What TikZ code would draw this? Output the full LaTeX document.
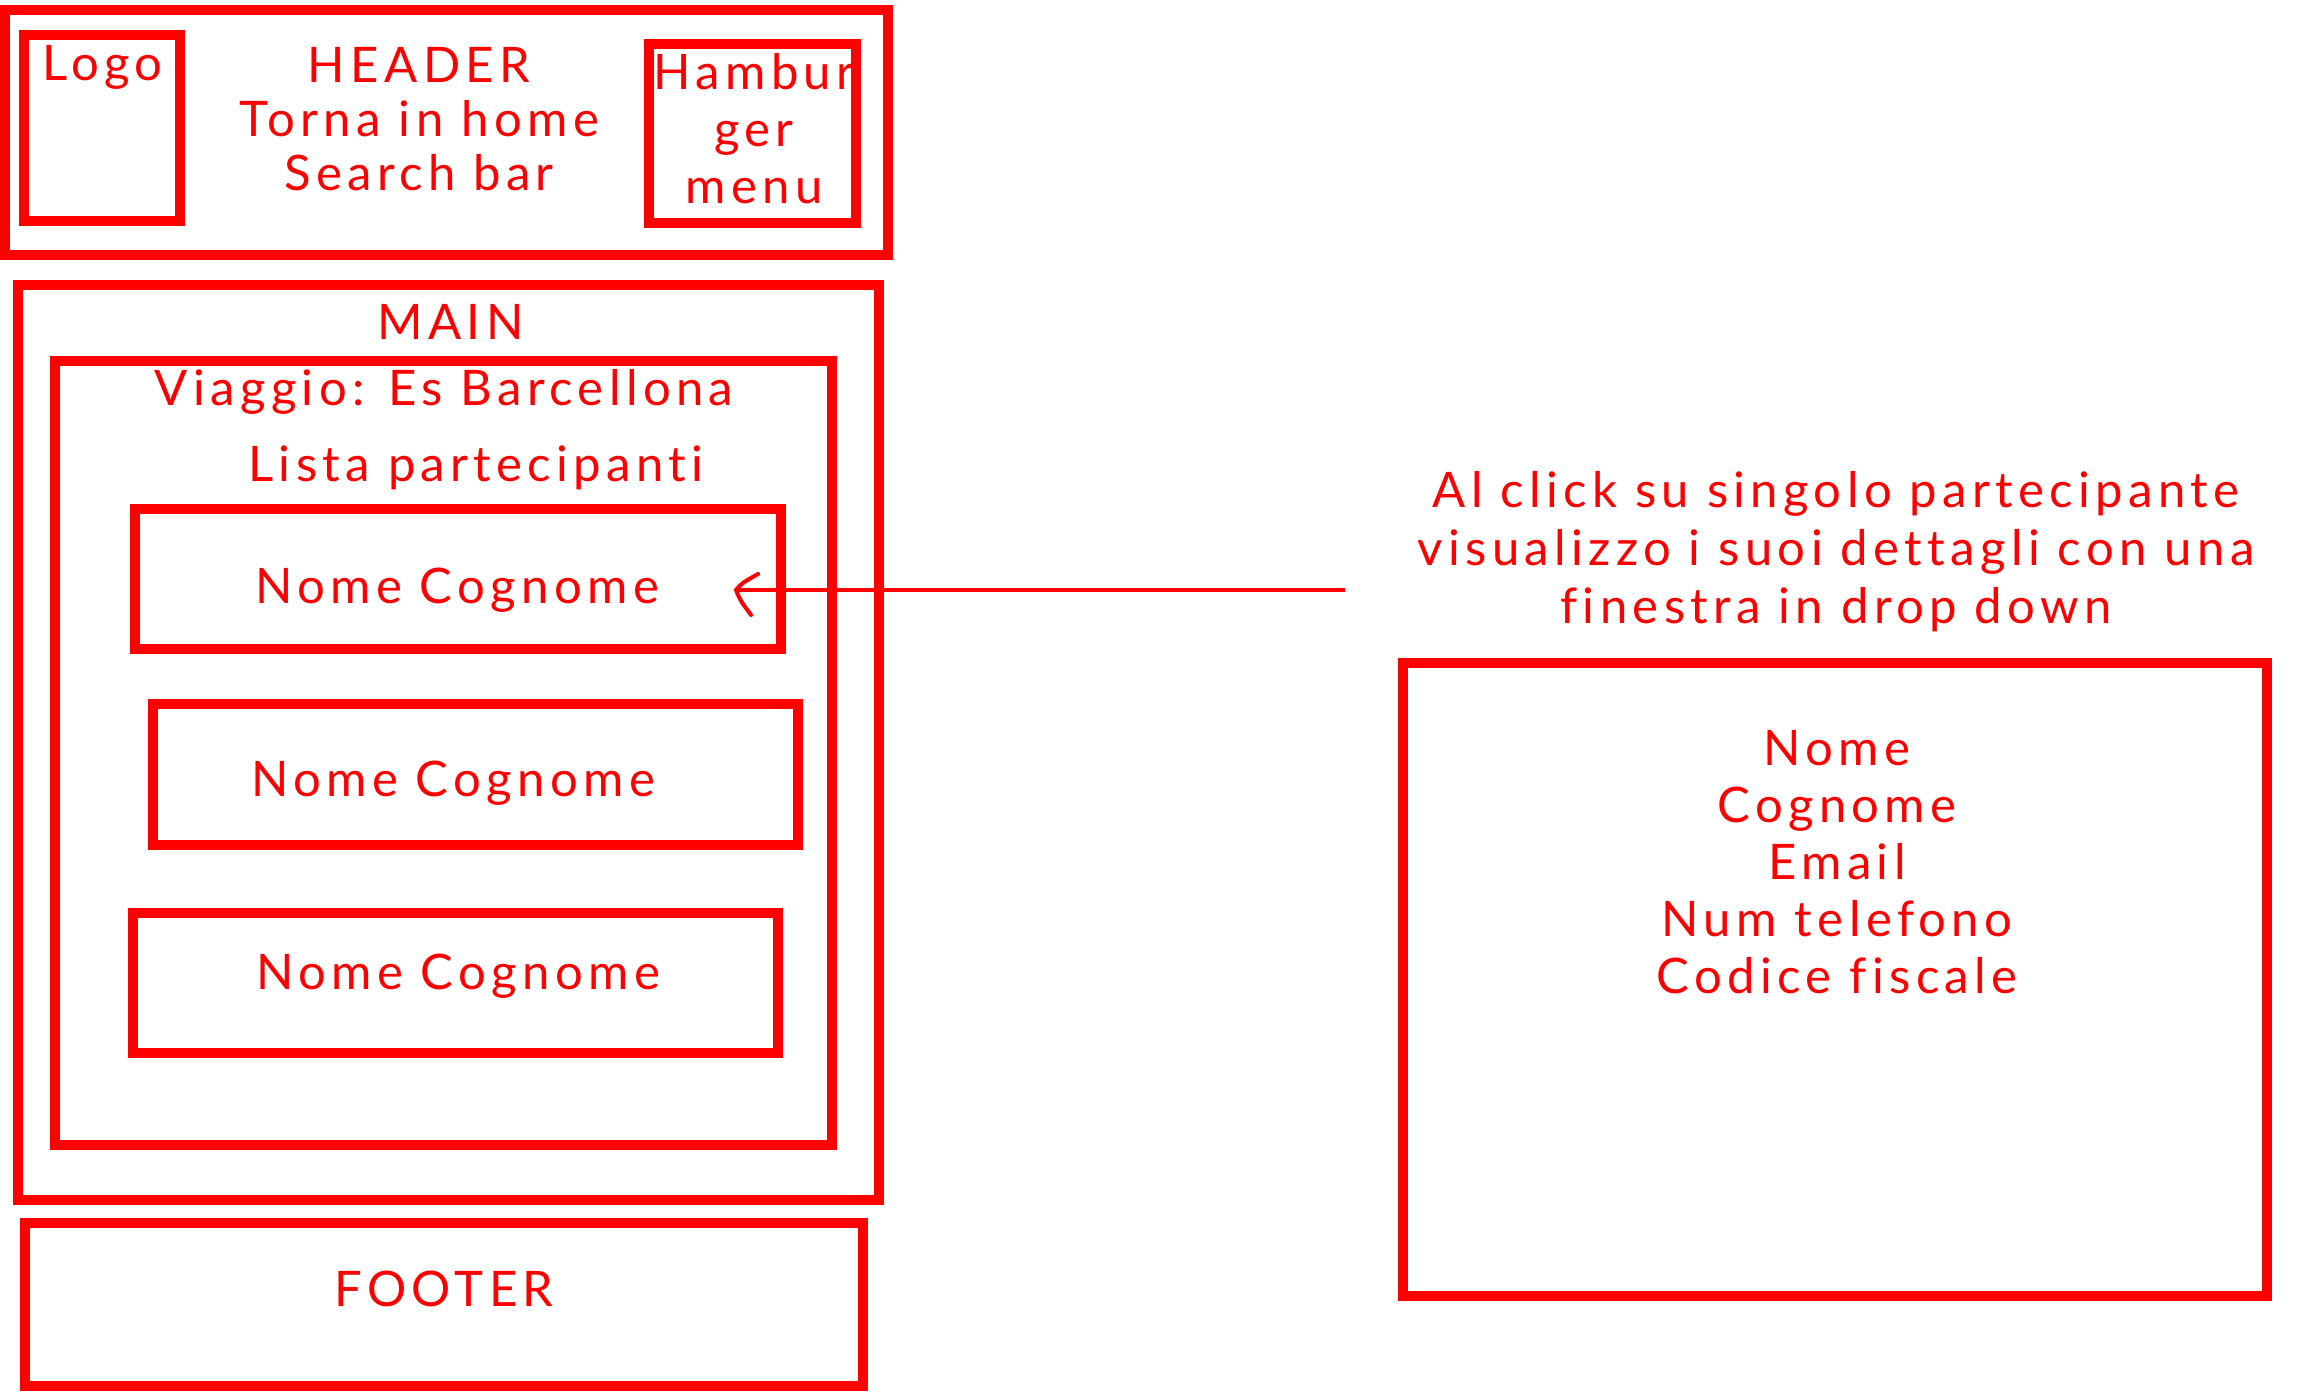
\documentclass[tikz,border=0pt]{standalone}
\usepackage{fontspec}
\setmainfont{Lato}[LetterSpace=11,Ligatures={NoCommon}]
\definecolor{wred}{RGB}{255,0,0}
\begin{document}
\begin{tikzpicture}[x=1pt,y=-1pt,
  box/.style={draw=wred, line width=10pt, inner sep=0pt, rectangle},
  txt/.style={text=wred, inner sep=0pt, anchor=base, align=center, font=\fontsize{49}{57}\selectfont},
  conn/.style={draw=wred, line width=3.5pt},
  barb/.style={draw=wred, line width=4pt, line cap=round}]
\useasboundingbox (0,0) rectangle (2316,1400);
% text (multi-line nodes: base anchor is the last line's baseline)
\node[txt] (logot) at (102.5,80) {Logo};
\node[txt,font=\fontsize{49}{54}\selectfont] (headt) at (419,190) {HEADER\\Torna in home\\Search bar};
\node[txt] (hambt) at (754,203) {Hambur\\ger\\menu};
\node[txt] (maint) at (450.5,339) {MAIN};
\node[txt] (tript) at (444,405) {Viaggio: Es Barcellona};
\node[txt] (listt) at (476,481) {Lista partecipanti};
\node[txt] (p1t) at (457,603) {Nome Cognome};
\node[txt] (p2t) at (453,796) {Nome Cognome};
\node[txt] (p3t) at (458,989) {Nome Cognome};
\node[txt] (foott) at (444,1306) {FOOTER};
\node[txt,font=\fontsize{49}{58}\selectfont] (note) at (1836,623) {Al click su singolo partecipante\\visualizzo i suoi dettagli con una\\finestra in drop down};
\node[txt] (dett) at (1837,993) {Nome\\Cognome\\Email\\Num telefono\\Codice fiscale};
% boxes
\node[box, minimum width=883pt, minimum height=245pt] (header) at (446.5,132.5) {};
\node[box, minimum width=156.5pt, minimum height=185.5pt] (logo) at (101.75,127.75) {};
\node[box, minimum width=207pt, minimum height=179pt] (hamb) at (752.5,133.5) {};
\node[box, minimum width=861.5pt, minimum height=915.5pt] (main) at (448.25,742.25) {};
\node[box, minimum width=777pt, minimum height=784pt] (trip) at (443.5,753) {};
\node[box, minimum width=646pt, minimum height=140pt] (p1) at (458,579) {};
\node[box, minimum width=645.5pt, minimum height=141pt] (p2) at (475.25,774.5) {};
\node[box, minimum width=645pt, minimum height=140pt] (p3) at (455.5,982.5) {};
\node[box, minimum width=837.5pt, minimum height=163pt] (footer) at (443.75,1304.5) {};
\node[box, minimum width=864pt, minimum height=633pt] (detail) at (1835,979.5) {};
% arrow
\coordinate (tip) at (736,590);
\coordinate (tail) at (1345,590);
\draw[conn] (tail) -- (tip);
\draw[barb] ([shift={(22,-16)}]tip) .. controls ([shift={(6,-7)}]tip) .. (tip) .. controls ([shift={(4,10)}]tip) .. ([shift={(15,25)}]tip);
\end{tikzpicture}
\end{document}
